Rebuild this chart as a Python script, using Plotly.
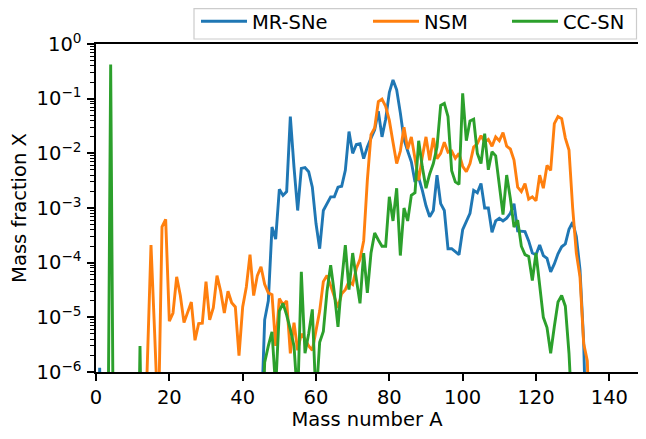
import plotly.graph_objects as go

# ---------------- data ----------------
mr_A = [0, 1, 2, 45, 46, 47, 48, 49, 50, 51, 52, 53, 54, 55, 56, 57, 58, 59, 60,
        61, 62, 63, 64, 65, 66, 67, 68, 69, 70, 71, 72, 73, 74, 75, 76, 77, 78, 79, 80,
        81, 82, 83, 84, 85, 86, 87, 88, 89, 90, 91, 92, 93, 94, 95, 96, 97, 98, 99, 100,
        101, 102, 103, 104, 105, 106, 107, 108, 109, 110, 111, 112, 113, 114, 115, 116,
        117, 118, 119, 120, 121, 122, 123, 124, 125, 126, 127, 128, 129, 130, 131, 132,
        133, 134]
mr_X = [1e-10, 1.2e-6, 1e-10, 1e-7, 9e-6, 2e-5, 4.5e-4, 2.7e-4, 2.2e-3, 1.7e-3, 2e-3,
        4.7e-2, 5.6e-3, 9e-4, 5.3e-3, 5.5e-3, 4.6e-3, 2.4e-3, 5.2e-4,
        1.8e-4, 9e-4, 1.2e-3, 1.6e-3, 1.6e-3, 2.4e-3, 2.5e-3, 4.9e-3, 2.5e-2, 1e-2,
        1.45e-2, 1.5e-2, 8e-3, 1.3e-2, 1.9e-2, 2.7e-2, 5.9e-2, 2e-2, 4.2e-2, 0.13,
        0.22, 0.145, 5.5e-2, 1.8e-2, 1.1e-2, 7e-3, 3e-3, 3.6e-3, 2.1e-3, 1.1e-3,
        6.9e-4, 9e-4, 4e-3, 1.2e-3, 9e-4, 1.8e-4, 1.8e-4, 1.6e-4, 1.4e-4, 4e-4,
        5.5e-4, 8e-4, 2.1e-3, 1.9e-3, 2.8e-3, 1e-3, 1e-3, 3.6e-4, 5.8e-4, 6.5e-4,
        5.8e-4, 6.5e-4, 8e-4, 1.2e-3, 3.8e-4, 3.7e-4,
        3.7e-4, 2.5e-4, 1.5e-4, 1.4e-4, 2.1e-4, 1.35e-4, 1.2e-4, 6.8e-5, 9.5e-5,
        1.45e-4, 1.95e-4, 2.2e-4, 4.1e-4, 5.5e-4, 3e-4, 7.5e-5,
        3.5e-6, 1e-8]

nsm_A = list(range(13, 136))
nsm_X = [1e-8, 2.3e-6, 2.1e-4, 5e-6, 1e-7, 4.5e-4, 6.2e-4,            # 13-19
         8.5e-6, 1.2e-5, 5.5e-5, 2.5e-5, 8e-6, 1.2e-5, 1.9e-5, 3.8e-6, 7.7e-6, 7.8e-6,  # 20-29
         4.5e-5, 9e-6, 1.5e-5, 5.8e-5, 3e-5, 1.2e-5, 3e-5, 1.85e-5, 1.55e-5, 2e-6,     # 30-39
         1.55e-5, 3.6e-5, 1.4e-4, 2.5e-5, 5.8e-5, 8.4e-5, 4e-5, 2.8e-5, 2.6e-5, 3e-6,   # 40-49
         2.2e-5, 1.7e-5, 2e-5, 2.2e-6, 8e-6, 2.5e-6, 5e-6, 4e-6, 3e-6, 2.5e-6,          # 50-59
         6e-6, 1.3e-5, 4.5e-5, 5.8e-5, 3.8e-5, 2.5e-5, 1.5e-5, 2.7e-5, 3.2e-5, 4.5e-5,  # 60-69
         4e-5, 7.8e-5, 1.15e-4, 2.5e-4, 3.2e-3, 2.2e-2, 2.9e-2, 8.8e-2, 9.8e-2, 7.2e-2, # 70-79
         4e-2, 1.6e-2, 6.5e-3, 1.1e-2, 3e-2, 1.2e-2, 2e-2, 8e-3, 3.2e-3, 8.7e-3,        # 80-89
         2e-2, 7.5e-3, 1.9e-2, 8e-3, 1e-2, 1.6e-2, 1.05e-2, 1.1e-2, 8.1e-3, 1e-2,       # 90-99
         5.8e-3, 4.6e-3, 6.5e-3, 1.3e-2, 1.5e-2, 2.1e-2, 1.6e-2, 1.8e-2, 1.35e-2, 2e-2, # 100-109
         1.7e-2, 2.4e-2, 1.35e-2, 1.2e-2, 7.5e-3, 2.4e-3, 2e-3, 2.8e-3, 1.45e-3, 1.6e-3, # 110-119
         1.35e-3, 4e-3, 2.3e-3, 6e-3, 4.9e-3, 3.5e-2, 4.7e-2, 4.3e-2, 1.9e-2, 1.15e-2, # 120-129
         1e-3, 1.5e-4, 5.5e-5, 3.3e-6, 1.6e-6, 1e-8]                                  # 130-135

cc_A = [3, 4, 5, 11, 12, 13] + list(range(45, 131))
cc_X = [1e-10, 0.42, 1e-10, 1e-10, 3e-6, 1e-10,
        1e-8, 1.5e-6, 3e-6, 5.4e-6, 5e-7,                                   # 45-49
        1.3e-5, 1.8e-5, 1.1e-5, 6e-6, 3e-6, 3e-7, 6.8e-5, 2.2e-6, 5e-6, 1.4e-5,  # 50-59
        3e-7, 3.5e-6, 5.5e-6, 3e-5, 9e-5, 2.8e-5, 6.7e-6, 4.5e-5, 2.1e-4, 3.2e-5,  # 60-69
        1.5e-4, 5e-5, 1.8e-5, 1.5e-4, 2.8e-5, 1.5e-4, 3.5e-4, 2.6e-4, 2e-4, 2e-4,  # 70-79
        1.6e-3, 5.8e-4, 2.3e-3, 1.35e-4, 1e-3, 5.8e-4, 1.7e-3, 1.9e-3, 1.7e-2, 5.6e-3,  # 80-89
        2.3e-3, 4.2e-3, 6.5e-3, 1.3e-2, 7.5e-2, 8.2e-2, 4.7e-2, 4.8e-3, 3e-3, 2.7e-3,  # 90-99
        0.125, 1.7e-2, 3.9e-2, 4.2e-2, 1e-2, 6.5e-3, 2.3e-2, 5e-3, 1.07e-2, 9e-3,     # 100-109
        2.7e-3, 7.6e-4, 4e-3, 1.5e-3, 4.5e-4, 6e-4, 2e-4, 1.4e-4, 1.3e-4, 4.7e-5,     # 110-119
        1.5e-4, 3.4e-5, 1e-5, 6.5e-6, 2.2e-6, 6.8e-6, 1.9e-5, 2.5e-5, 1.6e-5, 2.2e-6,  # 120-129
        1e-7]                                                                        # 130

series_names = ["MR-SNe", "NSM", "CC-SN"]
series_colors = ["#1f77b4", "#ff7f0e", "#2ca02c"]

x_ticks = [0, 20, 40, 60, 80, 100, 120, 140]
y_tick_vals = [1e-6, 1e-5, 1e-4, 1e-3, 1e-2, 1e-1, 1]
y_tick_text = ["10<sup>\u22126</sup>", "10<sup>\u22125</sup>", "10<sup>\u22124</sup>",
               "10<sup>\u22123</sup>", "10<sup>\u22122</sup>", "10<sup>\u22121</sup>",
               "10<sup>0</sup>"]

# ---------------- geometry (pixels) ----------------
# The page body keeps its default 8px margin, so the figure is sized to fit
# inside the 646x439 window without overflow and laid out 8px up/left.
OFF = 8
W, H = 646 - 2 * OFF, 439 - 2 * OFF          # 630 x 423
ML, MT = 96 - OFF, 44 - OFF                   # plot area starts at screen (96, 44)
PH = 328                                      # 10^0 .. 10^-6
MR = 0
MB = H - MT - PH
PW = W - ML - MR
X_PER_PX = 150 / 550                          # reference scale: 150 units over 550 px
X_MAX = PW * X_PER_PX


def px_x(p):  # screen x pixel -> paper x
    return (p - OFF - ML) / PW


def px_y(p):  # screen y pixel -> paper y
    return (H - MB - (p - OFF)) / PH


FONT = "DejaVu Sans"
fig = go.Figure()
legend_ids = ["legend", "legend2", "legend3"]
for (A, X), name, col, lg in zip([(mr_A, mr_X), (nsm_A, nsm_X), (cc_A, cc_X)],
                                 series_names, series_colors, legend_ids):
    fig.add_trace(go.Scatter(x=A, y=X, mode="lines", name=name, legend=lg,
                             line=dict(color=col, width=2.9)))

minor_vals = [k * 10.0 ** e for e in range(-6, 0) for k in range(2, 10)]

legend_font = dict(family=FONT, size=19.5, color="black")
legend_common = dict(orientation="h", xanchor="left", yanchor="middle",
                     y=px_y(21.5), bgcolor="rgba(0,0,0,0)", borderwidth=0,
                     font=legend_font, itemwidth=46)

fig.update_layout(
    width=W, height=H, autosize=False,
    margin=dict(l=ML, r=MR, t=MT, b=MB, pad=0, autoexpand=False),
    paper_bgcolor="white", plot_bgcolor="white",
    font=dict(family=FONT, size=19.5, color="black"),
    showlegend=True,
    legend=dict(x=px_x(196), **legend_common),
    legend2=dict(x=px_x(368), **legend_common),
    legend3=dict(x=px_x(507), **legend_common),
    shapes=[dict(type="rect", xref="paper", yref="paper",
                 x0=px_x(194), x1=px_x(636.5), y0=px_y(39), y1=px_y(8.7),
                 line=dict(color="#cccccc", width=1.2), fillcolor="white",
                 layer="above")],
    xaxis=dict(range=[0, X_MAX], tickmode="array", tickvals=x_ticks, automargin=False,
               ticks="outside", ticklen=6.8, tickwidth=1.5, tickcolor="black",
               showline=True, linewidth=1.5, linecolor="black", mirror=True,
               showgrid=False, zeroline=False,
               tickfont=dict(family=FONT, size=19.5, color="black"),
               title=dict(text="Mass number A", standoff=8,
                          font=dict(family=FONT, size=19.5, color="black"))),
    yaxis=dict(type="log", range=[-6, 0], tickmode="array", automargin=False,
               tickvals=y_tick_vals, ticktext=y_tick_text,
               ticks="outside", ticklen=6.8, tickwidth=1.5, tickcolor="black",
               ticklabelstandoff=2,
               minor=dict(tickmode="array", tickvals=minor_vals, ticks="outside",
                          ticklen=3.9, tickwidth=1.1, tickcolor="black", showgrid=False),
               showline=True, linewidth=1.5, linecolor="black", mirror=False,
               showgrid=False, zeroline=False,
               tickfont=dict(family=FONT, size=19.5, color="black"),
               title=dict(text="Mass fraction X", standoff=10,
                          font=dict(family=FONT, size=19.5, color="black"))),
)

fig.write_html("out.html")
